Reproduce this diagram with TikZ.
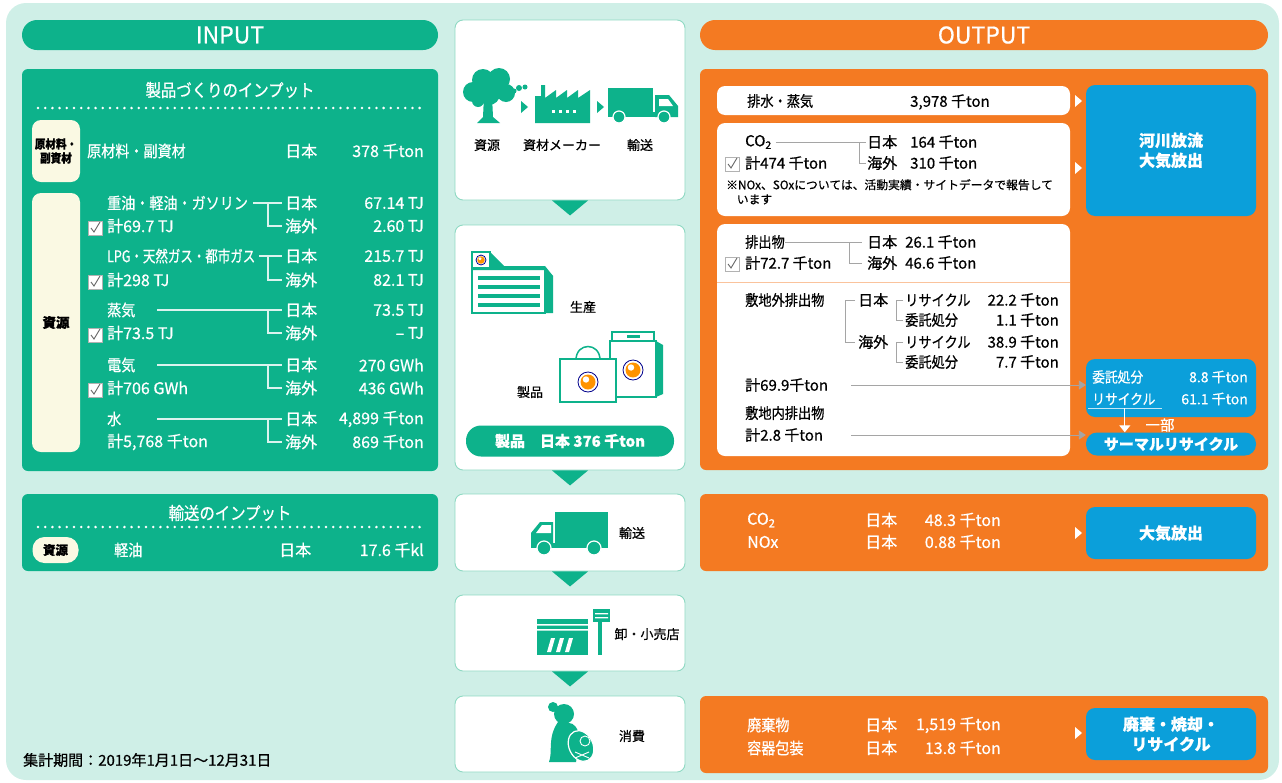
\documentclass[tikz,border=0pt]{standalone}
\usepackage{fontspec}
\setmainfont{Noto Sans CJK JP}[FakeBold=0.6]
\newfontfamily\jfont[FakeStretch=0.88, FakeBold=0.6]{Noto Sans CJK JP}
\newfontfamily\jnarrow[FakeStretch=0.78, FakeBold=0.6]{Noto Sans CJK JP}
\usepackage{xcolor}
\usetikzlibrary{positioning, arrows.meta}

\definecolor{mint}{HTML}{CFEFE7}
\definecolor{igreen}{HTML}{0DB28B}
\definecolor{oorange}{HTML}{F47A22}
\definecolor{oblue}{HTML}{0B9FDA}
\definecolor{cream}{HTML}{FAF9E3}
\definecolor{edgegreen}{HTML}{8FD9C3}
\definecolor{lnk}{HTML}{A5A5A5}

% check box drawn at centre (#1,#2)
\newcommand{\ckbox}[2]{%
  \draw[fill=white, draw=gray!60] (#1-7,#2-7) rectangle (#1+7,#2+7);
  \draw[gray!80!black, line width=0.9pt] (#1-4,#2) -- (#1-1,#2+4) -- (#1+5,#2-6);}
% small arrow head pointing right
\newcommand{\rtri}[3]{%
  \fill[#3] (#1,#2-6) -- (#1+7,#2) -- (#1,#2+6) -- cycle;}
% round logo
\newcommand{\logo}[3]{%
  \filldraw[fill=white, draw=blue!55!black, line width=0.8pt] (#1,#2) circle (#3);
  \fill[orange!85!yellow] (#1,#2) circle (#3*0.75);
  \fill[white] (#1-#3*0.2,#2-#3*0.25) circle (#3*0.32);}

\tikzset{
  wt/.style={text=white, inner sep=0pt, font=\jfont\fontsize{16}{19}\selectfont},
  wn/.style={text=white, inner sep=0pt, font=\fontsize{16}{19}\selectfont},
  bk/.style={text=black, inner sep=0pt, font=\jfont\fontsize{15}{18}\selectfont},
  bn/.style={text=black, inner sep=0pt, font=\fontsize{15}{18}\selectfont},
  sm/.style={text=black, inner sep=0pt, font=\fontsize{13}{15}\selectfont},
  wline/.style={draw=white!85!igreen, line width=1.3pt},
  gline/.style={draw=lnk, line width=0.9pt},
  dots/.style={white, line width=2.8pt, line cap=round, dash pattern=on 0pt off 7.2pt},
  stage/.style={draw=edgegreen, fill=white, line width=0.9pt, rounded corners=8pt, minimum width=230pt, inner sep=0pt},
  tag/.style={fill=cream, text=black, inner sep=0pt, align=center},
  bluebox/.style={fill=oblue, text=white, rounded corners=9pt, align=center, inner sep=0pt,
    minimum width=170pt, font=\fontsize{16}{20}\selectfont\bfseries},
  hdr/.style={text=white, rounded corners=15pt, minimum height=30pt, minimum width=416pt,
    inner sep=0pt, font=\fontsize{23}{26}\selectfont},
}

\begin{document}
\begin{tikzpicture}[x=1pt, y=-1pt]
\useasboundingbox (0,0) rectangle (1282,782);
% Background
\fill[mint, rounded corners=20pt] (6,3) rectangle (1279,780);

% Headers
\node[hdr, fill=igreen] (inhead) at (230,35) {INPUT};
\node[hdr, fill=oorange, minimum width=568pt] (outhead) at (984,35) {OUTPUT};

% Input for making products
\fill[igreen, rounded corners=6pt] (22,69) rectangle (438,471);
\node[wt, font=\jfont\fontsize{17.5}{20}\selectfont] (mktitle) at (230,90) {製品づくりのインプット};
\draw[dots] (38,108) -- (425,108);
\node[tag, rounded corners=9pt, minimum width=48pt, minimum height=62pt,
  font=\jfont\fontsize{12}{14}\selectfont\bfseries] (tagraw) at (56,151) {原材料・\\副資材};
\node[tag, rounded corners=9pt, minimum width=48pt, minimum height=259pt,
  font=\fontsize{13.5}{15}\selectfont\bfseries] (tagres) at (56,322.5) {資源};

\node[wt, anchor=west] (raw) at (87,151) {原材料・副資材};
\node[wn, anchor=west] (rawjp) at (285,151) {日本};
\node[wn, anchor=east] (rawval) at (424,151) {378 千ton};

% fuel oil
\node[wt, anchor=west] (oil) at (107,203) {重油・軽油・ガソリン};
\node[wn, anchor=west] (oilsum) at (107,226) {計69.7 TJ};
\ckbox{95}{228}
\node[wn, anchor=west] (oiljp) at (285,203) {日本};
\node[wn, anchor=west] (oilov) at (285,226) {海外};
\node[wn, anchor=east] (oiljpv) at (424,203) {67.14 TJ};
\node[wn, anchor=east] (oilovv) at (424,226) {2.60 TJ};
\draw[wline] ([xshift=5]oil.east) -- ([xshift=-3]oiljp.west);
\draw[wline] ([xshift=-17]oiljp.west) |- ([xshift=-3]oilov.west);

% gas
\node[wt, anchor=west, font=\jnarrow\fontsize{16}{19}\selectfont] (gas) at (107,256) {LPG・天然ガス・都市ガス};
\node[wn, anchor=west] (gassum) at (107,280) {計298 TJ};
\ckbox{95}{282}
\node[wn, anchor=west] (gasjp) at (285,256) {日本};
\node[wn, anchor=west] (gasov) at (285,280) {海外};
\node[wn, anchor=east] (gasjpv) at (424,256) {215.7 TJ};
\node[wn, anchor=east] (gasovv) at (424,280) {82.1 TJ};
\draw[wline] ([xshift=4]gas.east) -- ([xshift=-3]gasjp.west);
\draw[wline] ([xshift=-17]gasjp.west) |- ([xshift=-3]gasov.west);

% steam
\node[wt, anchor=west] (steam) at (107,310) {蒸気};
\node[wn, anchor=west] (steamsum) at (107,333) {計73.5 TJ};
\ckbox{95}{335}
\node[wn, anchor=west] (steamjp) at (285,310) {日本};
\node[wn, anchor=west] (steamov) at (285,333) {海外};
\node[wn, anchor=east] (steamjpv) at (424,310) {73.5 TJ};
\node[wn, anchor=east] (steamovv) at (424,333) {– TJ};
\draw[wline] (157,0 |- steam.center) -- ([xshift=-3]steamjp.west);
\draw[wline] ([xshift=-17]steamjp.west) |- ([xshift=-3]steamov.west);

% electricity
\node[wt, anchor=west] (elec) at (107,365) {電気};
\node[wn, anchor=west] (elecsum) at (107,388) {計706 GWh};
\ckbox{95}{390}
\node[wn, anchor=west] (elecjp) at (285,365) {日本};
\node[wn, anchor=west] (elecov) at (285,388) {海外};
\node[wn, anchor=east] (elecjpv) at (424,365) {270 GWh};
\node[wn, anchor=east] (elecovv) at (424,388) {436 GWh};
\draw[wline] (157,0 |- elec.center) -- ([xshift=-3]elecjp.west);
\draw[wline] ([xshift=-17]elecjp.west) |- ([xshift=-3]elecov.west);

% water
\node[wt, anchor=west] (water) at (107,419) {水};
\node[wn, anchor=west] (watersum) at (107,442) {計5,768 千ton};
\node[wn, anchor=west] (waterjp) at (285,419) {日本};
\node[wn, anchor=west] (waterov) at (285,442) {海外};
\node[wn, anchor=east] (waterjpv) at (424,419) {4,899 千ton};
\node[wn, anchor=east] (waterovv) at (424,442) {869 千ton};
\draw[wline] (157,0 |- water.center) -- ([xshift=-3]waterjp.west);
\draw[wline] ([xshift=-17]waterjp.west) |- ([xshift=-3]waterov.west);

% Input for transport
\fill[igreen, rounded corners=6pt] (22,494) rectangle (438,571);
\node[wt, font=\jfont\fontsize{17.5}{20}\selectfont] (trtitle) at (230,513) {輸送のインプット};
\draw[dots] (38,527) -- (425,527);
\node[tag, rounded corners=12pt, minimum width=46pt, minimum height=26pt,
  font=\fontsize{12.5}{15}\selectfont\bfseries] (tagfuel) at (55.5,550) {資源};
\node[wt, anchor=west] (diesel) at (114,550) {軽油};
\node[wn, anchor=west] (dieseljp) at (279,550) {日本};
\node[wn, anchor=east] (dieselv) at (424,550) {17.6 千kl};

\node[text=black, inner sep=0pt, anchor=west, font=\fontsize{15}{17}\selectfont] (period)
  at (23,760) {集計期間：2019年1月1日～12月31日};

% Life cycle stages
\node[stage, minimum height=180pt] (chain) at (570,110) {};
\node[stage, minimum height=245pt] (prod) at (570,347.5) {};
\node[stage, minimum height=77pt] (ship) at (570,532.5) {};
\node[stage, minimum height=76pt] (store) at (570,633) {};
\node[stage, minimum height=76pt] (use) at (570,734) {};
\foreach \a in {chain, prod, ship, store}
  \fill[igreen] ([xshift=-18]\a.south) -- ([xshift=18]\a.south) -- ([yshift=-15]\a.south) -- cycle;

% tree
\fill[igreen] (473,92) circle (10) (483,80) circle (11) (499,79) circle (11)
  (506,93) circle (9) (489,94) circle (11) (478,101) circle (6);
\fill[igreen] (484,96) -- (492,96) -- (493,117) -- (500,123) -- (477,123) -- (483,117) -- cycle;
\fill[igreen] (514,91) circle (2.5) (519,88) circle (3) (525,87) circle (2.5);
\rtri{521}{107}{igreen}
% factory
\fill[igreen] (535,123) -- (535,96) -- (541,96) -- (541,85) -- (545,85) -- (545,98) -- (556,90)
  -- (556,98) -- (567,90) -- (567,98) -- (578,90) -- (578,98) -- (590,90) -- (590,123) -- cycle;
\foreach \x in {552,559,566,573}
  \fill[white] (\x,110) rectangle (\x+3,113);
\rtri{597}{107}{igreen}
% truck
\fill[igreen] (608,88) rectangle (653,114);
\fill[igreen] (655,95) -- (669,95) -- (678,106) -- (678,117) -- (655,117) -- cycle;
\fill[white] (659,99) -- (668,99) -- (673,106) -- (659,106) -- cycle;
\fill[igreen] (608,112) rectangle (678,117);
\filldraw[fill=igreen, draw=white, line width=1.2pt] (619,117) circle (6) (664,117) circle (6);
\node[sm] (lbres) at (487,145) {資源};
\node[sm] (lbmaker) at (562,145) {資材メーカー};
\node[sm] (lbship) at (640,145) {輸送};

% plant
\filldraw[draw=igreen, fill=white, line width=1.3pt] (472,268) rectangle (545,313);
\fill[igreen] (545,268) -- (553,276) -- (553,313) -- (545,313) -- cycle;
\fill[igreen] (472,266) -- (545,266) -- (553,276) -- (545,270) -- (472,270) -- cycle;
\filldraw[draw=igreen, fill=white, line width=1.3pt] (472,252) rectangle (490,268);
\fill[igreen] (490,252) -- (506,268) -- (490,268) -- cycle;
\foreach \y in {276,285,294,303}
  \fill[igreen] (478,\y) rectangle (540,\y+4);
\logo{481}{260}{5}
\node[sm] (lbmake) at (583,307) {生産};
% products
\filldraw[draw=igreen, fill=white, line width=1.5pt] (610,341) rectangle (656,397);
\fill[igreen] (656,341) -- (663,345) -- (663,394) -- (656,397) -- cycle;
\filldraw[draw=igreen, fill=white, line width=1.5pt] (612,332) rectangle (654,341);
\fill[igreen] (627,335) rectangle (640,338);
\logo{633}{370}{10}
\draw[igreen, line width=1.5pt] (576,360) .. controls (576,342) and (600,342) .. (600,360);
\filldraw[draw=igreen, fill=white, line width=1.5pt] (560,359) rectangle (616,402);
\logo{588}{382}{10}
\node[sm] (lbprod) at (530,392) {製品};
\node[fill=igreen, text=white, rounded corners=15pt, minimum width=208pt, minimum height=31pt,
  inner sep=0pt, font=\fontsize{15}{18}\selectfont\bfseries] (prodval) at (570,441) {製品　日本 376 千ton};

% delivery truck
\fill[igreen] (555,512) rectangle (608,544);
\fill[igreen] (553,522) -- (540,522) -- (531,533) -- (531,547) -- (553,547) -- cycle;
\fill[white] (542,525) -- (551,525) -- (551,533) -- (536,533) -- cycle;
\fill[igreen] (531,543) rectangle (608,548);
\filldraw[fill=igreen, draw=white, line width=1.2pt] (544,548) circle (7) (594,548) circle (7);
\node[sm] (lbdeliver) at (632,533) {輸送};

% shop
\fill[igreen] (537,619) rectangle (588,655);
\fill[white] (537,624) rectangle (588,625.5) (537,629) rectangle (588,630.5);
\foreach \x in {547,556,565}
  \fill[white] (\x,652) -- (\x+4,638) -- (\x+8,638) -- (\x+4,652) -- cycle;
\fill[igreen] (598,612) rectangle (602,655);
\fill[igreen] (593,609) rectangle (610,622);
\fill[white] (595,613) rectangle (608,614.3) (595,617) rectangle (608,618.3);
\node[sm] (lbshop) at (647,634) {卸・小売店};

% consumer
\fill[igreen] (553,707) circle (5) (564,714) circle (10);
\fill[igreen] (558,722) .. controls (547,738) and (553,752) .. (549,762) -- (576,762)
  -- (580,738) .. controls (578,728) and (574,723) .. (569,723) -- cycle;
\filldraw[fill=igreen, draw=white, line width=1.2pt, rotate around={25:(581,746)}] (581,746) ellipse (12 and 16);
\draw[white, line width=0.9pt] (585,741) circle (5);
\draw[white, line width=0.9pt] (575,752) -- (589,758) (575,758) -- (589,752);
\node[sm] (lbuse) at (632,736) {消費};

% Output for making products
\fill[oorange, rounded corners=6pt] (700,69) rectangle (1268,470);
\fill[white, rounded corners=8pt] (717,86) rectangle (1070,115);
\node[bk, anchor=west] (drain) at (747,101) {排水・蒸気};
\node[bn, anchor=west] (drainval) at (910,102) {3,978 千ton};
\rtri{1075}{101}{white}

\fill[white, rounded corners=8pt] (717,123) rectangle (1070,216);
\node[bn, anchor=west] (co) at (745,142) {CO\textsubscript{2}};
\ckbox{732}{164}
\node[bn, anchor=west] (cosum) at (745,163) {計474 千ton};
\node[bn, anchor=west] (cojp) at (867,142) {日本};
\node[bn, anchor=west] (coov) at (867,163) {海外};
\node[bn, anchor=west] (cojpv) at (910,142) {164 千ton};
\node[bn, anchor=west] (coovv) at (910,163) {310 千ton};
\draw[gline] ([xshift=4]co.east) -- ([xshift=-1]cojp.west);
\draw[gline] ([xshift=-8]cojp.west) |- ([xshift=-1]coov.west);
\node[text=black, inner sep=0pt, anchor=north west, align=left, font=\fontsize{11.8}{14.5}\selectfont]
  (note) at (726,179) {※NOx、SOxについては、活動実績・サイトデータで報告して\\\hspace*{0.9em}います};
\rtri{1075}{168}{white}
\node[bluebox, minimum height=131pt] (river) at (1171,150.5) {河川放流\\大気放出};

\fill[white, rounded corners=8pt] (717,224) rectangle (1070,456);
\node[bk, anchor=west] (waste) at (745,242) {排出物};
\ckbox{732}{264}
\node[bn, anchor=west] (wastesum) at (745,263) {計72.7 千ton};
\node[bn, anchor=west] (wastejp) at (867,242) {日本};
\node[bn, anchor=west] (wasteov) at (867,263) {海外};
\node[bn, anchor=west] (wastejpv) at (905,242) {26.1 千ton};
\node[bn, anchor=west] (wasteovv) at (905,263) {46.6 千ton};
\draw[gline] (waste.east) -- ([xshift=-5]wastejp.west);
\draw[gline] ([xshift=-18]wastejp.west) |- ([xshift=-5]wasteov.west);
\draw[oorange!45, line width=1pt] (717,282) -- (1070,282);

\node[bk, anchor=west] (offsite) at (745,300) {敷地外排出物};
\node[bn, anchor=west] (offjp) at (858,300) {日本};
\node[bn, anchor=west] (offov) at (858,342) {海外};
\draw[gline] ([xshift=-3]offjp.west) -- ++(-10,0) |- ([xshift=-3]offov.west);
\node[bk, anchor=west] (jprec) at (905,300) {リサイクル};
\node[bk, anchor=west] (jpdis) at (905,320) {委託処分};
\node[bn, anchor=east] (jprecv) at (1059,300) {22.2 千ton};
\node[bn, anchor=east] (jpdisv) at (1059,320) {1.1 千ton};
\draw[gline] ([xshift=-2]jprec.west) -- ++(-7,0) |- ([xshift=-2]jpdis.west);
\node[bk, anchor=west] (ovrec) at (905,342) {リサイクル};
\node[bk, anchor=west] (ovdis) at (905,362) {委託処分};
\node[bn, anchor=east] (ovrecv) at (1059,342) {38.9 千ton};
\node[bn, anchor=east] (ovdisv) at (1059,362) {7.7 千ton};
\draw[gline] ([xshift=-2]ovrec.west) -- ++(-7,0) |- ([xshift=-2]ovdis.west);

\node[bn, anchor=west] (offsum) at (745,385) {計69.9千ton};
\node[bk, anchor=west] (onsite) at (745,413) {敷地内排出物};
\node[bn, anchor=west] (onsum) at (745,435) {計2.8 千ton};

% where the waste goes
\node[fill=oblue, rounded corners=9pt, minimum width=170pt, minimum height=58pt, inner sep=0pt] (dest) at (1171,388) {};
\node[wt, anchor=west, font=\jfont\fontsize{14.5}{17}\selectfont] (destdis) at (1092,377) {委託処分};
\node[wn, anchor=east, font=\fontsize{14}{17}\selectfont] (destdisv) at (1248,377) {8.8 千ton};
\node[wt, anchor=west, font=\jfont\fontsize{14.5}{17}\selectfont] (destrec) at (1092,399) {リサイクル};
\node[wn, anchor=east, font=\fontsize{14}{17}\selectfont] (destrecv) at (1248,399) {61.1 千ton};
\node[fill=oblue, text=white, rounded corners=11pt, minimum width=170pt, minimum height=23pt, inner sep=0pt,
  font=\fontsize{15}{18}\selectfont\bfseries] (thermal) at (1171,444) {サーマルリサイクル};
\draw[white!75!oblue, line width=0.8pt] ([xshift=-4,yshift=-3]destrec.south west)
  -- ([xshift=6,yshift=-3]destrec.south east) coordinate[pos=0.5] (ul);
\draw[white, line width=1pt, -{Triangle[width=11pt,length=7pt]}] (ul) -- (ul |- thermal.north);
\node[wn, font=\fontsize{14.5}{17}\selectfont] (part) at (1160,425) {一部};
\draw[gline, -{Triangle[width=9pt,length=7pt]}] (851,0 |- offsum.center) -- (offsum.center -| dest.west);
\draw[gline, -{Triangle[width=9pt,length=7pt]}] (851,0 |- onsum.center) -- (onsum.center -| thermal.west);

% Output for transport
\fill[oorange, rounded corners=6pt] (700,494) rectangle (1268,571);
\node[wn, anchor=west] (tco) at (747,520) {CO\textsubscript{2}};
\node[wn, anchor=west] (tnox) at (747,542) {NOx};
\node[wn, anchor=west] (tcojp) at (865,520) {日本};
\node[wn, anchor=west] (tnoxjp) at (865,542) {日本};
\node[wn, anchor=east] (tcov) at (1001,520) {48.3 千ton};
\node[wn, anchor=east] (tnoxv) at (1001,542) {0.88 千ton};
\rtri{1075}{533}{white}
\node[bluebox, minimum height=52pt] (air) at (1171,533) {大気放出};

% Output for consumption
\fill[oorange, rounded corners=6pt] (700,696) rectangle (1268,773);
\node[wt, anchor=west] (dump) at (747,725) {廃棄物};
\node[wt, anchor=west] (pack) at (747,748) {容器包装};
\node[wn, anchor=west] (dumpjp) at (865,725) {日本};
\node[wn, anchor=west] (packjp) at (865,748) {日本};
\node[wn, anchor=east] (dumpv) at (1001,725) {1,519 千ton};
\node[wn, anchor=east] (packv) at (1001,748) {13.8 千ton};
\rtri{1075}{733}{white}
\node[bluebox, minimum height=52pt] (burn) at (1171,734) {廃棄・焼却・\\リサイクル};
\end{tikzpicture}
\end{document}
